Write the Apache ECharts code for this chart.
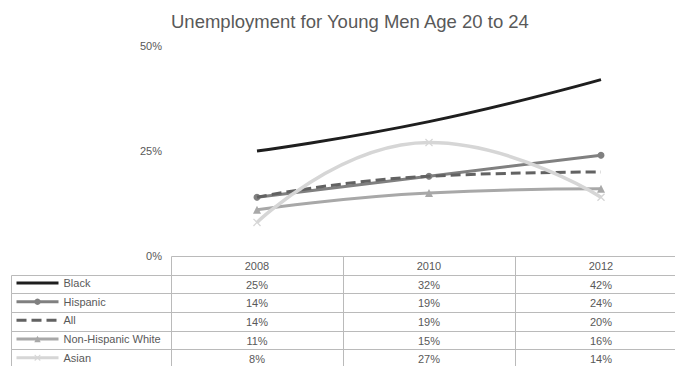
<!DOCTYPE html>
<html>
<head>
<meta charset="utf-8">
<script src="https://cdn.jsdelivr.net/npm/echarts@6/dist/echarts.min.js"></script>
<style>
  html, body { margin: 0; padding: 0; background: #fff; }
  #chart { width: 675px; height: 366px; }
</style>
</head>
<body>
<div id="chart"></div>
<script>
// Unemployment rate (%) for men aged 20 to 24
const years = ['2008', '2010', '2012'];
const black = [25, 32, 42];
const hispanic = [14, 19, 24];
const allMen = [14, 19, 20];
const nonHispanicWhite = [11, 15, 16];
const asian = [8, 27, 14];
const groupNames = ['Black', 'Hispanic', 'All', 'Non-Hispanic White', 'Asian'];
const yMin = 0, yMax = 50, yStep = 25;

const groupValues = [black, hispanic, allMen, nonHispanicWhite, asian];

const FONT = '"Liberation Sans", Arial, sans-serif';
const TEXT = '#595959';
const RULE = '#bababa';
const X_MARK = 'path://M0,1.2L1.2,0L5,3.8L8.8,0L10,1.2L6.2,5L10,8.8L8.8,10L5,6.2L1.2,10L0,8.8L3.8,5Z';

// data table cells: header row of years, then one row per group
const tableCells = [];
const tableText = [];
years.forEach((y, c) => { tableCells.push([c, 0]); tableText.push(y); });
groupValues.forEach((vals, r) => {
  vals.forEach((v, c) => { tableCells.push([c, r + 1]); tableText.push(v + '%'); });
});

const LEGEND_COL = 160;
const PLOT_LEFT = 171, PLOT_WIDTH = 516;

function renderCell(params, api) {
  const col = api.value(0), row = api.value(1);
  const p = api.coord([col, row]);
  const s = api.size([1, 1]);
  const x0 = Math.round(p[0] - s[0] / 2) + 0.5;
  const x1 = Math.round(p[0] + s[0] / 2) + 0.5;
  const y0 = Math.round(p[1] - s[1] / 2) + 0.5;
  const y1 = Math.round(p[1] + s[1] / 2) + 0.5;
  const children = [
    { type: 'rect', shape: { x: x0, y: y0, width: x1 - x0, height: y1 - y0 },
      style: { fill: 'none', stroke: RULE, lineWidth: 1 } },
    { type: 'text', style: { x: p[0], y: p[1] + 0.5, text: tableText[params.dataIndex],
      align: 'center', verticalAlign: 'middle', fill: TEXT, font: '11px ' + FONT } }
  ];
  if (col === 0 && row > 0) {
    children.push({ type: 'rect', shape: { x: x0 - LEGEND_COL, y: y0, width: LEGEND_COL, height: y1 - y0 },
      style: { fill: 'none', stroke: RULE, lineWidth: 1 } });
  }
  return { type: 'group', children };
}

const lineStyles = [
  { color: '#1e1e1e', width: 3, symbol: 'none', size: 0 },
  { color: '#808080', width: 3, symbol: 'circle', size: 7 },
  { color: '#626262', width: 3, symbol: 'none', size: 0, dash: [10, 5] },
  { color: '#a8a8a8', width: 3, symbol: 'triangle', size: 8 },
  { color: '#d6d6d6', width: 3.5, symbol: X_MARK, size: 8 }
];

const lineSeries = groupNames.map((name, i) => {
  const st = lineStyles[i];
  return {
    name, type: 'line', xAxisIndex: 0, yAxisIndex: 0,
    data: groupValues[i], smooth: true,
    symbol: st.symbol, symbolSize: st.size, showSymbol: st.symbol !== 'none',
    lineStyle: { color: st.color, width: st.width, type: st.dash || 'solid' },
    itemStyle: { color: st.color },
    emphasis: { disabled: true }, z: 3 + i
  };
});

const chart = echarts.init(document.getElementById('chart'), null, { renderer: 'svg' });
chart.setOption({
  animation: false,
  backgroundColor: '#fff',
  textStyle: { fontFamily: FONT },
  title: {
    text: 'Unemployment for Young Men Age 20 to 24',
    left: 166, top: 7,
    textStyle: { fontSize: 18.5, fontWeight: 'normal', color: TEXT, fontFamily: FONT }
  },
  legend: {
    orient: 'vertical', left: 10, top: 271, height: 120,
    itemWidth: 42, itemHeight: 8, itemGap: 4.67,
    selectedMode: false,
    textStyle: { fontSize: 11, color: TEXT, lineHeight: 14, fontFamily: FONT },
    lineStyle: { width: 3 },
    data: groupNames.map((n, i) => lineStyles[i].symbol === 'none'
      ? { name: n, itemStyle: { opacity: 0 } } : { name: n })
  },
  grid: [
    { left: PLOT_LEFT, width: PLOT_WIDTH, top: 46, height: 210,
      containLabel: false, outerBoundsMode: 'none' },
    { left: PLOT_LEFT, width: PLOT_WIDTH, top: 256, height: 112,
      containLabel: false, outerBoundsMode: 'none' }
  ],
  xAxis: [
    { type: 'category', gridIndex: 0, data: years, boundaryGap: true, show: false },
    { type: 'category', gridIndex: 1, data: years, boundaryGap: true, show: false }
  ],
  yAxis: [
    { type: 'value', gridIndex: 0, min: yMin, max: yMax, interval: yStep,
      axisLine: { show: false }, axisTick: { show: false }, splitLine: { show: false },
      axisLabel: { formatter: '{value}%', color: TEXT, fontSize: 11, margin: 9, fontFamily: FONT } },
    { type: 'category', gridIndex: 1, inverse: true, show: false,
      data: [''].concat(groupNames) }
  ],
  series: lineSeries.concat([{
    type: 'custom', xAxisIndex: 1, yAxisIndex: 1,
    data: tableCells, renderItem: renderCell, silent: true, z: 1
  }])
});
</script>
</body>
</html>
